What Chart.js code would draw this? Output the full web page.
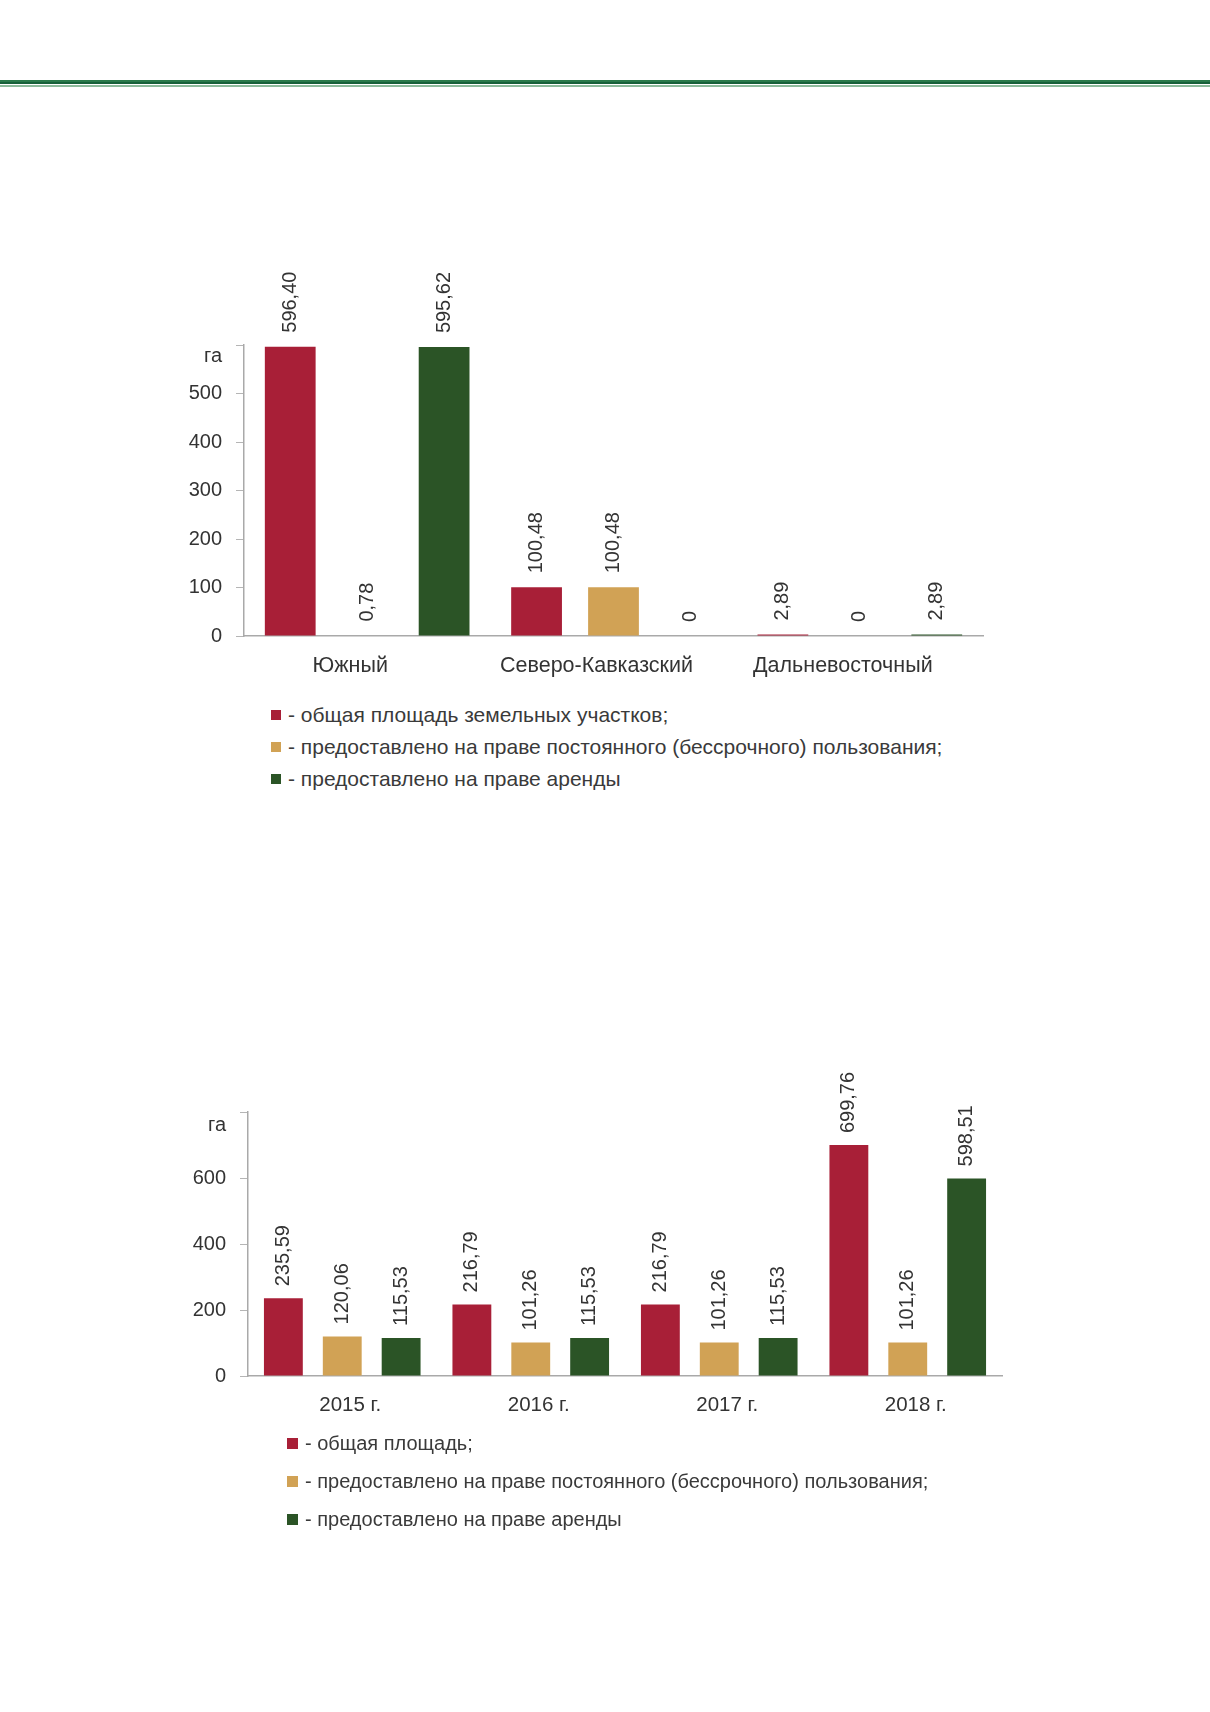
<!DOCTYPE html>
<html lang="ru">
<head>
<meta charset="utf-8">
<title>Земельные участки</title>
<script src="https://cdn.jsdelivr.net/npm/chart.js@4.4.1/dist/chart.umd.min.js"></script>
<style>
    html, body {
        margin: 0;
        padding: 0;
        background: #fff;
    }
    body {
        position: relative;
        width: 1210px;
        height: 1712px;
        overflow: hidden;
        font-family: "Liberation Sans", Arial, sans-serif;
        color: #333;
    }
    .topline {
        position: absolute;
        left: 0;
        width: 1210px;
    }
    .chart-box {
        position: absolute;
        left: 0;
        width: 1210px;
    }
    .legend {
        position: absolute;
        white-space: nowrap;
        color: #3a3a3a;
    }
    .legend div {
        position: relative;
    }
    .legend span.sq {
        position: absolute;
        top: 50%;
    }
</style>
</head>
<body>

<div class="topline" style="top:80px;height:2px;background:#2a7a4b;"></div>
<div class="topline" style="top:82px;height:2px;background:#17613a;"></div>
<div class="topline" style="top:85px;height:2px;background:#8dbb9c;"></div>

<div class="chart-box" style="top:200px;height:486px;"><canvas id="chartRegions"></canvas></div>
<div class="legend" id="legendRegions" style="left:271px;top:699px;font-size:21px;line-height:32px;"></div>

<div class="chart-box" style="top:1000px;height:426px;"><canvas id="chartYears"></canvas></div>
<div class="legend" id="legendYears" style="left:287px;top:1424px;font-size:20px;line-height:38px;"></div>

<script>
// Цвета серий
const colorTotal = '#a81f37';
const colorPermanent = '#d1a255';
const colorLease = '#2b5426';

// Диаграмма 1: по федеральным округам
const regionLabels = ['Южный', 'Северо-Кавказский', 'Дальневосточный'];
const regionTotal = [596.40, 100.48, 2.89];
const regionPermanent = [0.78, 100.48, 0];
const regionLease = [595.62, 0, 2.89];
const regionTicks = [0, 100, 200, 300, 400, 500];
const regionLegend = [
    '- общая площадь земельных участков;',
    '- предоставлено на праве постоянного (бессрочного) пользования;',
    '- предоставлено на праве аренды'
];

// Диаграмма 2: по годам
const yearLabels = ['2015 г.', '2016 г.', '2017 г.', '2018 г.'];
const yearTotal = [235.59, 216.79, 216.79, 699.76];
const yearPermanent = [120.06, 101.26, 101.26, 101.26];
const yearLease = [115.53, 115.53, 115.53, 598.51];
const yearTicks = [0, 200, 400, 600];
const yearLegend = [
    '- общая площадь;',
    '- предоставлено на праве постоянного (бессрочного) пользования;',
    '- предоставлено на праве аренды'
];

const unitLabel = 'га';
const fontFamily = '"Liberation Sans", Arial, sans-serif';

function formatValue(v) {
    return v === 0 ? '0' : v.toFixed(2).replace('.', ',');
}

// Подписи значений над столбцами (повёрнутые)
const valueLabelsPlugin = {
    id: 'valueLabels',
    afterDatasetsDraw(chart, args, opts) {
        const ctx = chart.ctx;
        ctx.save();
        ctx.fillStyle = '#333';
        ctx.font = opts.size + 'px ' + fontFamily;
        ctx.textAlign = 'left';
        ctx.textBaseline = 'middle';
        chart.data.datasets.forEach((ds, i) => {
            chart.getDatasetMeta(i).data.forEach((bar, j) => {
                ctx.save();
                ctx.translate(bar.x, bar.y - opts.gap);
                ctx.rotate(-Math.PI / 2);
                ctx.fillText(formatValue(ds.data[j]), 0, 0);
                ctx.restore();
            });
        });
        ctx.restore();
    }
};

// Единица измерения у верхнего края оси Y
const unitPlugin = {
    id: 'unitLabel',
    afterDraw(chart, args, opts) {
        const y = chart.scales.y;
        const ctx = chart.ctx;
        ctx.save();
        ctx.fillStyle = '#333';
        ctx.font = '20px ' + fontFamily;
        ctx.textAlign = 'right';
        ctx.textBaseline = 'middle';
        ctx.fillText(unitLabel, y.right - opts.shift, y.top + opts.offset);
        ctx.restore();
    }
};

function makeDatasets(total, permanent, lease, legend) {
    return [
        { label: legend[0], data: total, backgroundColor: colorTotal },
        { label: legend[1], data: permanent, backgroundColor: colorPermanent },
        { label: legend[2], data: lease, backgroundColor: colorLease }
    ].map(ds => ({ ...ds, barPercentage: 0.66, categoryPercentage: 0.937 }));
}

function makeChart(canvasId, cfg) {
    return new Chart(document.getElementById(canvasId).getContext('2d'), {
        type: 'bar',
        data: {
            labels: cfg.labels,
            datasets: makeDatasets(cfg.total, cfg.permanent, cfg.lease, cfg.legend)
        },
        options: {
            responsive: true,
            maintainAspectRatio: false,
            animation: false,
            layout: { padding: cfg.padding },
            plugins: {
                legend: { display: false },
                tooltip: { enabled: false },
                title: { display: false },
                valueLabels: { size: 20, gap: cfg.gap },
                unitLabel: { shift: 22, offset: cfg.unitOffset }
            },
            scales: {
                x: {
                    grid: { drawOnChartArea: false, drawTicks: false },
                    border: { color: '#a9a9a9', width: 1.5 },
                    ticks: {
                        color: '#333',
                        font: { family: fontFamily, size: cfg.catSize },
                        padding: 17,
                        labelOffset: cfg.labelOffset,
                        maxRotation: 0
                    },
                    afterFit: s => { s.height = 50; }
                },
                y: {
                    min: 0,
                    max: cfg.max,
                    afterBuildTicks: s => { s.ticks = cfg.ticks.concat([cfg.max]).map(v => ({ value: v })); },
                    grid: { drawOnChartArea: false, drawTicks: true, tickLength: 8, color: '#b5b5b5' },
                    border: { color: '#a9a9a9', width: 1.5 },
                    ticks: {
                        color: '#333',
                        font: { family: fontFamily, size: 20 },
                        padding: 14,
                        callback: v => (v === cfg.max ? '' : v)
                    },
                    afterFit: s => { s.width = cfg.axisX; }
                }
            }
        },
        plugins: [valueLabelsPlugin, unitPlugin]
    });
}

function buildLegend(id, items, size) {
    const colors = [colorTotal, colorPermanent, colorLease];
    const box = document.getElementById(id);
    items.forEach((text, i) => {
        const row = document.createElement('div');
        const sq = document.createElement('span');
        sq.className = 'sq';
        sq.style.left = '0px';
        sq.style.width = size + 'px';
        sq.style.height = size + 'px';
        sq.style.marginTop = (-size / 2) + 'px';
        sq.style.background = colors[i];
        const label = document.createElement('span');
        label.style.paddingLeft = (size + 7) + 'px';
        label.textContent = text;
        row.appendChild(sq);
        row.appendChild(label);
        box.appendChild(row);
    });
}

makeChart('chartRegions', {
    labels: regionLabels,
    total: regionTotal,
    permanent: regionPermanent,
    lease: regionLease,
    legend: regionLegend,
    ticks: regionTicks,
    max: 600,
    axisX: 244,
    padding: { top: 145, left: 0, right: 227, bottom: 0 },
    gap: 14,
    unitOffset: 11,
    labelOffset: -17,
    catSize: 21.5
});

makeChart('chartYears', {
    labels: yearLabels,
    total: yearTotal,
    permanent: yearPermanent,
    lease: yearLease,
    legend: yearLegend,
    ticks: yearTicks,
    max: 800,
    axisX: 248,
    padding: { top: 112, left: 0, right: 208, bottom: 0 },
    gap: 12,
    unitOffset: 13,
    labelOffset: 8,
    catSize: 20.5
});

buildLegend('legendRegions', regionLegend, 10);
buildLegend('legendYears', yearLegend, 11);
</script>
</body>
</html>
